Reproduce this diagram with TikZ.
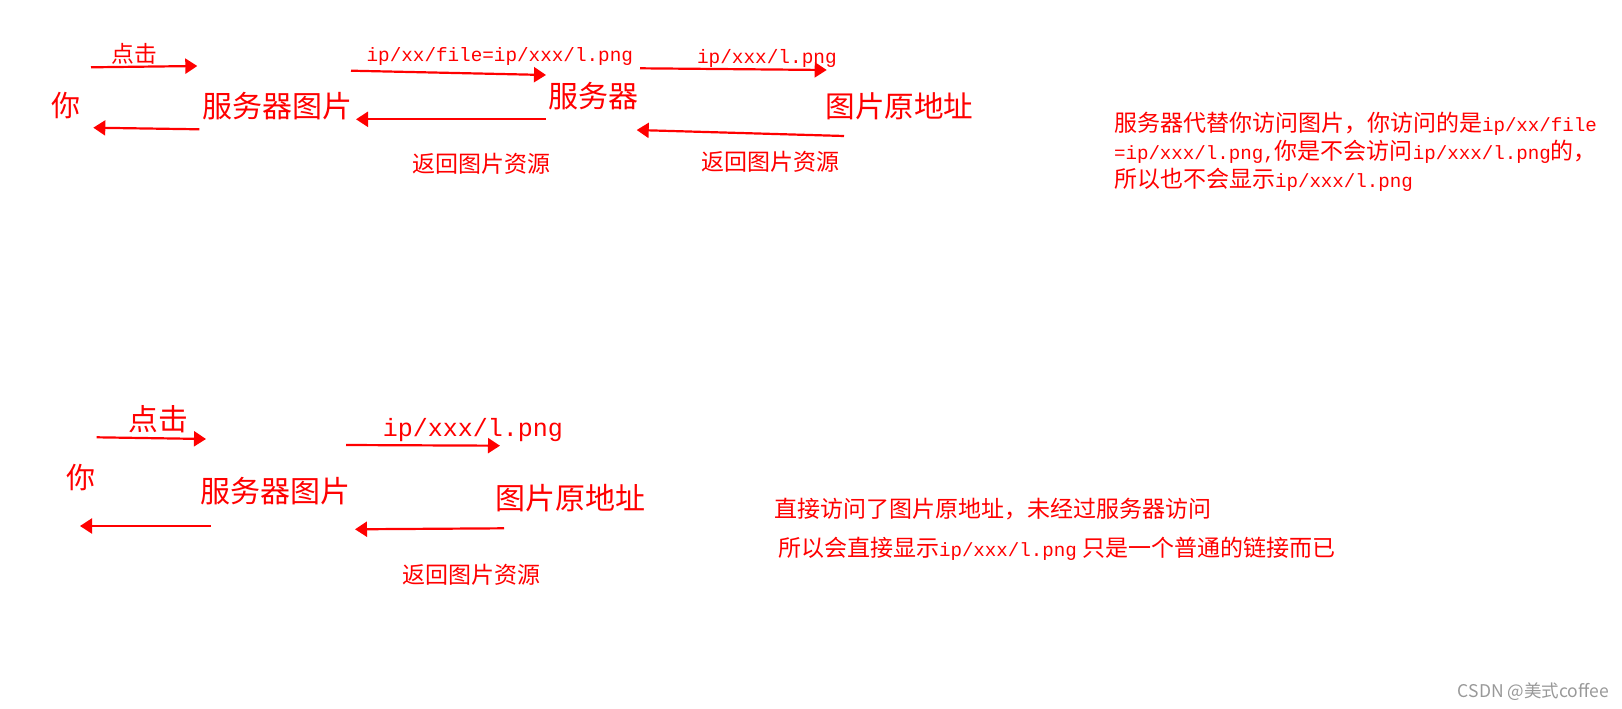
\documentclass[tikz,border=0pt]{standalone}
\usepackage{fontspec}
\usetikzlibrary{arrows.meta}
\newfontfamily\cjk{Noto Sans CJK SC}
\newfontfamily\monof[Scale=0.833]{Liberation Mono}
\newfontfamily\monor{Liberation Mono}
\newcommand\fsz[1]{\fontsize{#1}{#1}\selectfont}
\definecolor{wm}{RGB}{153,153,153}
\tikzset{
  txt/.style={inner sep=0pt, outer sep=0pt, anchor=base west, text=red},
  arr/.style={draw=red, line width=2.2pt, -{Triangle[length=12pt,width=15pt]}},
}
\begin{document}
\begin{tikzpicture}[x=1pt,y=-1pt]
\useasboundingbox[fill=white] (0,0) rectangle (1622,709);
% ---------- top row ----------
\node[txt, font=\cjk\fsz{22.8}] (t1) at (111.6,62.4) {点击};
\node[txt, font=\cjk\fsz{29}] (you1) at (51.8,116) {你};
\node[txt, font=\cjk\fsz{30}] (srvimg1) at (202.5,117.7) {服务器图片};
\node[txt, font=\monor\fsz{19.3}] (lab1) at (366.6,61.3) {ip/xx/file=ip/xxx/l.png};
\node[txt, font=\cjk\fsz{30}] (srv) at (548.5,107.4) {服务器};
\node[txt, font=\cjk\fsz{23}] (ret1) at (412.2,172) {返回图片资源};
\node[txt, font=\monor\fsz{19.4}] (lab2) at (697,63.5) {ip/xxx/l.png};
\node[txt, font=\cjk\fsz{29.6}] (orig1) at (825.5,117.2) {图片原地址};
\node[txt, font=\cjk\fsz{23}] (ret2) at (701.9,170.7) {返回图片资源};
\node[txt, font=\cjk\fsz{23}] (n1) at (1114,131) {服务器代替你访问图片，你访问的是{\monof ip/xx/file}};
\node[txt, font=\cjk\fsz{23}] (n2) at (1114,159.2) {{\monof =ip/xxx/l.png,}你是不会访问{\monof ip/xxx/l.png}的，};
\node[txt, font=\cjk\fsz{23}] (n3) at (1114,187.4) {所以也不会显示{\monof ip/xxx/l.png}};
\coordinate (a1s) at (91,67.3);     \coordinate (a1e) at (197.3,66);
\coordinate (b1s) at (199.3,129.3); \coordinate (b1e) at (93.3,127.7);
\coordinate (a2s) at (351,70.7);    \coordinate (a2e) at (546,75);
\coordinate (b2s) at (546,119.3);   \coordinate (b2e) at (356,119.3);
\coordinate (a3s) at (640,68.3);    \coordinate (a3e) at (826.7,70);
\coordinate (b3s) at (844,136);     \coordinate (b3e) at (636.7,130);
\draw[arr] (a1s) -- (a1e);
\draw[arr] (b1s) -- (b1e);
\draw[arr] (a2s) -- (a2e);
\draw[arr] (b2s) -- (b2e);
\draw[arr] (a3s) -- (a3e);
\draw[arr] (b3s) -- (b3e);
% ---------- bottom row ----------
\node[txt, font=\cjk\fsz{29.8}] (t2) at (128.5,430.5) {点击};
\node[txt, font=\cjk\fsz{29}] (you2) at (66.8,488.5) {你};
\node[txt, font=\cjk\fsz{30}] (srvimg2) at (200.2,502.2) {服务器图片};
\node[txt, font=\monor\fsz{25}] (lab3) at (382.8,436.5) {ip/xxx/l.png};
\node[txt, font=\cjk\fsz{30}] (orig2) at (495.2,509.7) {图片原地址};
\node[txt, font=\cjk\fsz{23}] (ret3) at (402.9,583.7) {返回图片资源};
\node[txt, font=\cjk\fsz{23}] (m1) at (774.9,517) {直接访问了图片原地址，未经过服务器访问};
\node[txt, font=\cjk\fsz{23}] (m2) at (778,556.7) {所以会直接显示{\monof ip/xxx/l.png} 只是一个普通的链接而已};
\coordinate (c1s) at (96.7,437.3);  \coordinate (c1e) at (206,439);
\coordinate (d1s) at (210.7,526);   \coordinate (d1e) at (80,526);
\coordinate (c2s) at (346,445);     \coordinate (c2e) at (500,445.7);
\coordinate (d2s) at (504,528.3);   \coordinate (d2e) at (355,529.3);
\draw[arr] (c1s) -- (c1e);
\draw[arr] (d1s) -- (d1e);
\draw[arr] (c2s) -- (c2e);
\draw[arr] (d2s) -- (d2e);
% ---------- watermark ----------
\node[inner sep=0pt, anchor=base east, text=wm, font=\cjk\fsz{17.5}] (wmk) at (1609,697) {CSDN @美式coffee};
\end{tikzpicture}
\end{document}
